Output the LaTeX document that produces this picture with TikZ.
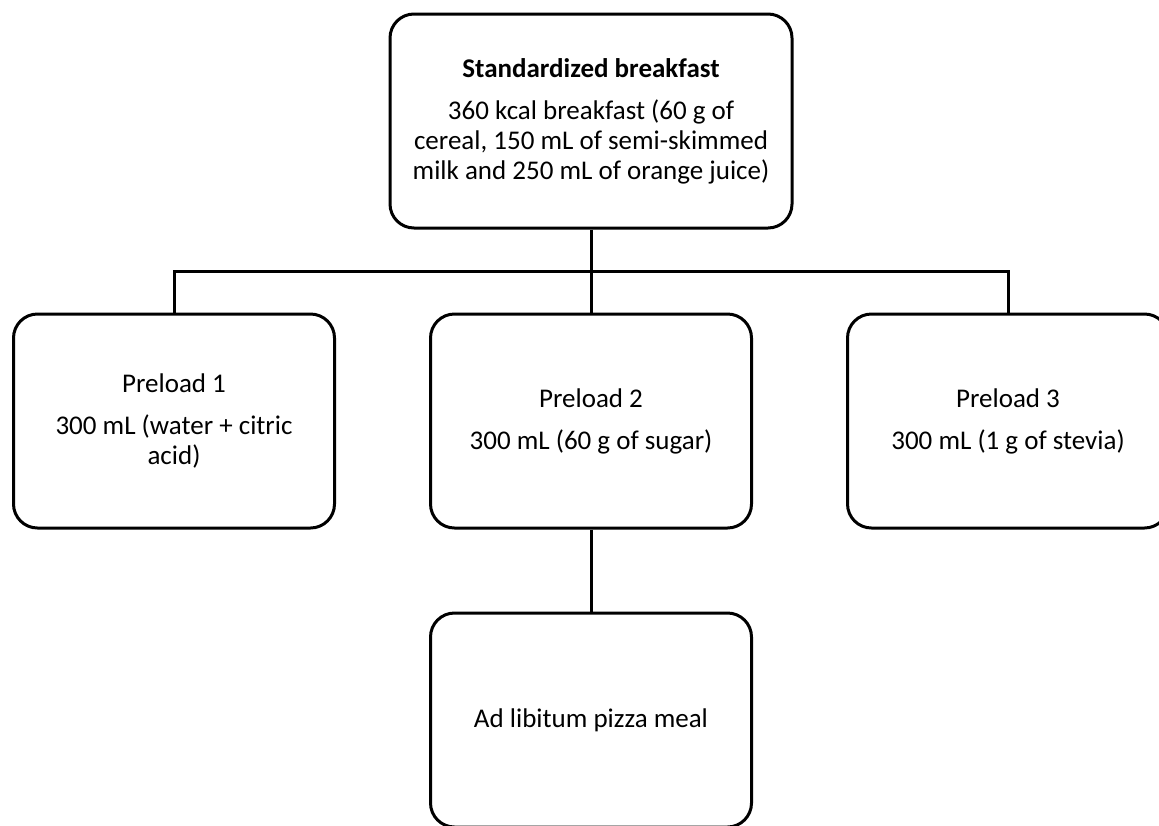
\documentclass[tikz,border=0pt]{standalone}
\usepackage{fontspec}
\setmainfont{Carlito}
\usepackage{tikz}

\tikzset{
  box/.style={draw, line width=1.5pt, rounded corners=12pt, minimum width=160.5pt,
    minimum height=107pt, align=center, inner sep=0pt,
    font=\fontsize{13.5}{15}\selectfont},
  link/.style={line width=1.5pt}
}

\begin{document}
\begin{tikzpicture}[x=0.5pt,y=-0.5pt]
    \useasboundingbox (0,0) rectangle (1159,825);
    \node[box, minimum width=201pt] (breakfast) at (591,121)
      {\textbf{Standardized breakfast}\\[6pt]
       360 kcal breakfast (60 g of\\
       cereal, 150 mL of semi-skimmed\\
       milk and 250 mL of orange juice)};
    \node[box] (pre1) at (174,421) {Preload 1\\[6pt] 300 mL (water + citric\\ acid)};
    \node[box] (pre2) at (591,421) {Preload 2\\[6pt] 300 mL (60 g of sugar)};
    \node[box] (pre3) at (1008,421) {Preload 3\\[6pt] 300 mL (1 g of stevia)};
    \node[box] (pizza) at (591,720) {Ad libitum pizza meal};
    \coordinate (split) at (591,271);
    \draw[link] (breakfast.south) -- (split);
    \draw[link] (split) -| (pre1.north);
    \draw[link] (split) -| (pre3.north);
    \draw[link] (split) -- (pre2.north);
    \draw[link] (pre2.south) -- (pizza.north);
 \end{tikzpicture}
\end{document}
